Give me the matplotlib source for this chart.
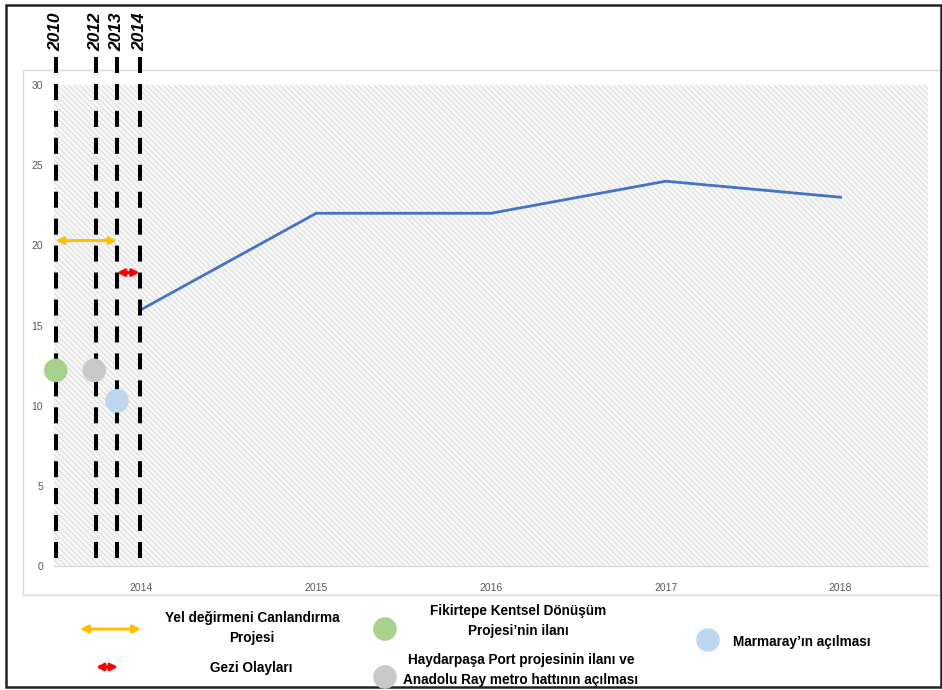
import matplotlib
matplotlib.use("Agg")
import matplotlib.pyplot as plt
from matplotlib.patches import Rectangle

plt.rcParams['font.family'] = ['Liberation Sans', 'DejaVu Sans']
plt.rcParams['hatch.color'] = '#d4d4d4'
plt.rcParams['hatch.linewidth'] = 0.6

# Series values
years = ['2014', '2015', '2016', '2017', '2018']
values = [16, 22, 22, 24, 23]

# Timeline events (positions in category units, left of the first year)
event_labels = ['2010', '2012', '2013', '2014']
event_pos = [-0.49, -0.26, -0.14, -0.01]

# Period arrows: (start, end, level)
yel_arrow = (-0.49, -0.14, 20.3)
gezi_arrow = (-0.14, -0.01, 18.3)

# Milestone dots: x, y
fikirtepe_dot = (-0.49, 12.2)
haydarpasa_dot = (-0.27, 12.2)
marmaray_dot = (-0.14, 10.3)

c_line = '#4472C4'
c_yel = '#FFC000'
c_gezi = '#FF0000'
c_green = '#A9D18E'
c_gray = '#C9C9C9'
c_blue = '#BDD7EE'

fig = plt.figure(figsize=(9.42, 6.90), dpi=100)
ax = fig.add_axes([54/942, 1 - 566/690, (928-54)/942, (566-85)/690])

ax.patch.set_facecolor('#f8f8f8')
ax.patch.set_hatch('\\\\\\\\\\\\')
ax.patch.set_edgecolor('#d4d4d4')
ax.patch.set_linewidth(0)

x = list(range(len(years)))
ax.plot(x, values, color=c_line, lw=2.0, zorder=3)

ax.set_xlim(-0.5, len(years) - 0.5)
ax.set_ylim(0, 30)
ax.set_yticks(range(0, 31, 5))
ax.set_xticks(x)
ax.set_xticklabels(years)
ax.tick_params(axis='both', length=0, labelsize=7.5, colors='#595959', pad=8)
ax.tick_params(axis='x', pad=12)
for s in ['top', 'right', 'left']:
    ax.spines[s].set_visible(False)
ax.spines['bottom'].set_color('#d9d9d9')
ax.spines['bottom'].set_linewidth(1)

# Dashed event lines (drawn top-down) with rotated year labels above the plot
for lab, p in zip(event_labels, event_pos):
    ax.plot([p, p], [31.75, 0], color='black', lw=2.9,
            linestyle=(0, (3.97, 2.72)), clip_on=False, zorder=4)
    ax.text(p, 32.1, lab, rotation=90, ha='center', va='bottom',
            fontsize=12.5, fontweight='bold', fontstyle='italic', clip_on=False)

# Period arrows
for (x0, x1, yv), col in [(yel_arrow, c_yel), (gezi_arrow, c_gezi)]:
    ax.annotate('', xy=(x1, yv), xytext=(x0, yv),
                arrowprops=dict(arrowstyle='<|-|>', color=col, lw=2.2,
                                mutation_scale=10, shrinkA=0, shrinkB=0),
                zorder=5)

# Milestone dots
for (dx, dy), col in [(fikirtepe_dot, c_green), (haydarpasa_dot, c_gray), (marmaray_dot, c_blue)]:
    ax.scatter([dx], [dy], s=290, color=col, zorder=6, edgecolors='none', clip_on=False)

# Overlay in pixel coordinates for frames and the legend
ov = fig.add_axes([0, 0, 1, 1], zorder=-1)
ov.set_xlim(0, 942)
ov.set_ylim(690, 0)
ov.axis('off')
ov.add_patch(Rectangle((23, 70), 917, 525, fill=False, edgecolor='#d9d9d9', lw=1))

lg = fig.add_axes([0, 0, 1, 1], zorder=10)
lg.set_xlim(0, 942)
lg.set_ylim(690, 0)
lg.axis('off')
lg.patch.set_alpha(0)
lg.add_patch(Rectangle((6, 5), 935, 682, fill=False, edgecolor='#222222', lw=1.8))

lg.annotate('', xy=(141, 629), xytext=(80, 629),
            arrowprops=dict(arrowstyle='<|-|>', color=c_yel, lw=2.2,
                            mutation_scale=11, shrinkA=0, shrinkB=0))
lg.annotate('', xy=(118, 667), xytext=(96, 667),
            arrowprops=dict(arrowstyle='<|-|>', color=c_gezi, lw=2.2,
                            mutation_scale=10, shrinkA=0, shrinkB=0))
lg.scatter([385, 385, 708], [629, 677, 640], s=290,
           color=[c_green, c_gray, c_blue], edgecolors='none')

tkw = dict(fontsize=9.8, fontweight='bold', ha='center', va='center', linespacing=1.6)
lg.text(252, 628, 'Yel değirmeni Canlandırma\nProjesi', **tkw)
lg.text(251, 668, 'Gezi Olayları', **tkw)
lg.text(518, 621, 'Fikirtepe Kentsel Dönüşüm\nProjesi’nin ilanı', **tkw)
lg.text(521, 670, 'Haydarpaşa Port projesinin ilanı ve\nAnadolu Ray metro hattının açılması', **tkw)
lg.text(733, 642, 'Marmaray’ın açılması', fontsize=9.8, fontweight='bold', ha='left', va='center')

fig.savefig('out.png', dpi=100)
